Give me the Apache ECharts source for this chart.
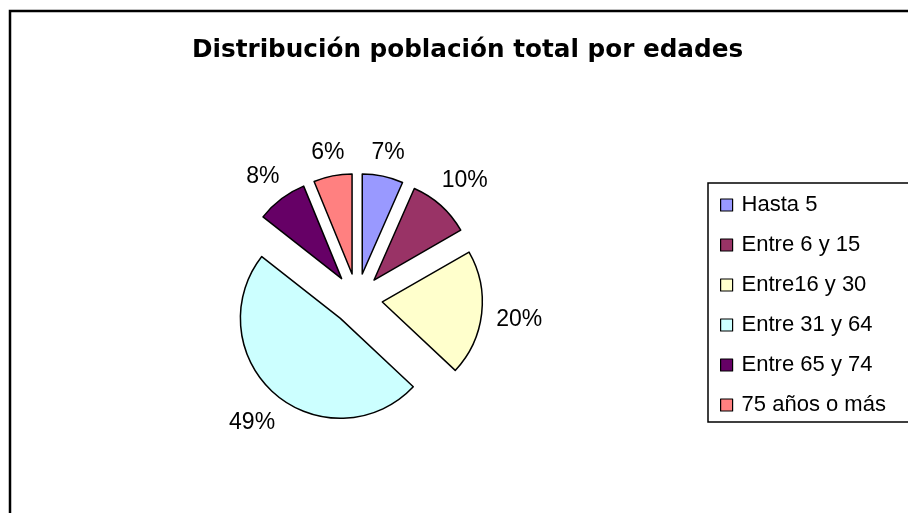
<!DOCTYPE html>
<html>
<head>
<meta charset="utf-8">
<script src="https://cdn.jsdelivr.net/npm/echarts@6/dist/echarts.min.js"></script>
<style>
html,body{margin:0;padding:0;background:#fff;}
#chart{width:908px;height:513px;}
</style>
</head>
<body>
<div id="chart"></div>
<script>
const titleText = 'Distribución población total por edades';
const categories = ['Hasta 5', 'Entre 6 y 15', 'Entre16 y 30', 'Entre 31 y 64', 'Entre 65 y 74', '75 años o más'];
const values = [6.6, 10.1, 20.3, 48.6, 8.2, 6.2];
const colors = ['#9999FF', '#993366', '#FFFFCC', '#CCFFFF', '#660066', '#FF8080'];

const font = '"Liberation Sans", Arial, sans-serif';
const chart = echarts.init(document.getElementById('chart'), null, {renderer: 'canvas'});

const pieCenter = [357, 299];
const pieRadius = 100;
const explode = 25.5;
const labelGap = 114;   // distance from exploded slice centre to the near edge of its label box

const mainData = categories.map((c, i) => ({
  name: c, value: values[i], selected: true,
  itemStyle: {color: colors[i]}
}));
const labelData = categories.map((c, i) => ({name: c, value: values[i]}));

chart.setOption({
  animation: false,
  backgroundColor: '#ffffff',
  title: {
    text: titleText,
    left: 192, top: 38,
    padding: 0,
    textStyle: {fontFamily: '"DejaVu Sans", sans-serif', fontWeight: 'bold', fontSize: 24.7, color: '#000'}
  },
  legend: {
    orient: 'vertical',
    left: 708, top: 183,
    padding: [11, 300, 6, 12],
    borderColor: '#000', borderWidth: 1.5,
    itemWidth: 12, itemHeight: 12,
    itemGap: 18,
    icon: 'rect',
    selectedMode: false,
    data: categories,
    itemStyle: {borderColor: '#000', borderWidth: 1.2},
    textStyle: {fontFamily: font, fontSize: 22, color: '#000', lineHeight: 21, padding: [0, 0, 0, 4]}
  },
  graphic: [{
    type: 'rect', silent: true,
    shape: {x: 10, y: 11, width: 1000, height: 1000},
    style: {fill: 'none', stroke: '#000', lineWidth: 2.5}
  }],
  series: [{
    type: 'pie',
    center: pieCenter,
    radius: pieRadius,
    startAngle: 90,
    clockwise: true,
    selectedMode: 'multiple',
    selectedOffset: explode,
    avoidLabelOverlap: false,
    label: {show: false},
    labelLine: {show: false},
    emphasis: {disabled: true},
    itemStyle: {borderColor: '#000', borderWidth: 1.5},
    data: mainData
  }, {
    type: 'pie',
    center: pieCenter,
    radius: pieRadius,
    startAngle: 90,
    clockwise: true,
    silent: true,
    legendHoverLink: false,
    avoidLabelOverlap: false,
    emphasis: {disabled: true},
    itemStyle: {color: 'rgba(0,0,0,0)', borderWidth: 0},
    label: {
      show: true, position: 'inside', rotate: 0,
      fontFamily: font, fontSize: 23, color: '#000',
      formatter: p => Math.round(p.percent) + '%'
    },
    labelLine: {show: false},
    labelLayout: function (params) {
      const r = params.labelRect;
      const dx = r.x + r.width / 2 - pieCenter[0];
      const dy = r.y + r.height / 2 - pieCenter[1];
      const len = Math.sqrt(dx * dx + dy * dy) || 1;
      const ux = dx / len, uy = dy / len;
      const halfExtent = (r.width / 2) * Math.abs(ux) + (r.height * 0.37) * Math.abs(uy);
      const d = explode + labelGap + halfExtent;
      return {
        x: pieCenter[0] + ux * d,
        y: pieCenter[1] + uy * d + 2,
        align: 'center',
        verticalAlign: 'middle'
      };
    },
    data: labelData
  }]
});
</script>
</body>
</html>
